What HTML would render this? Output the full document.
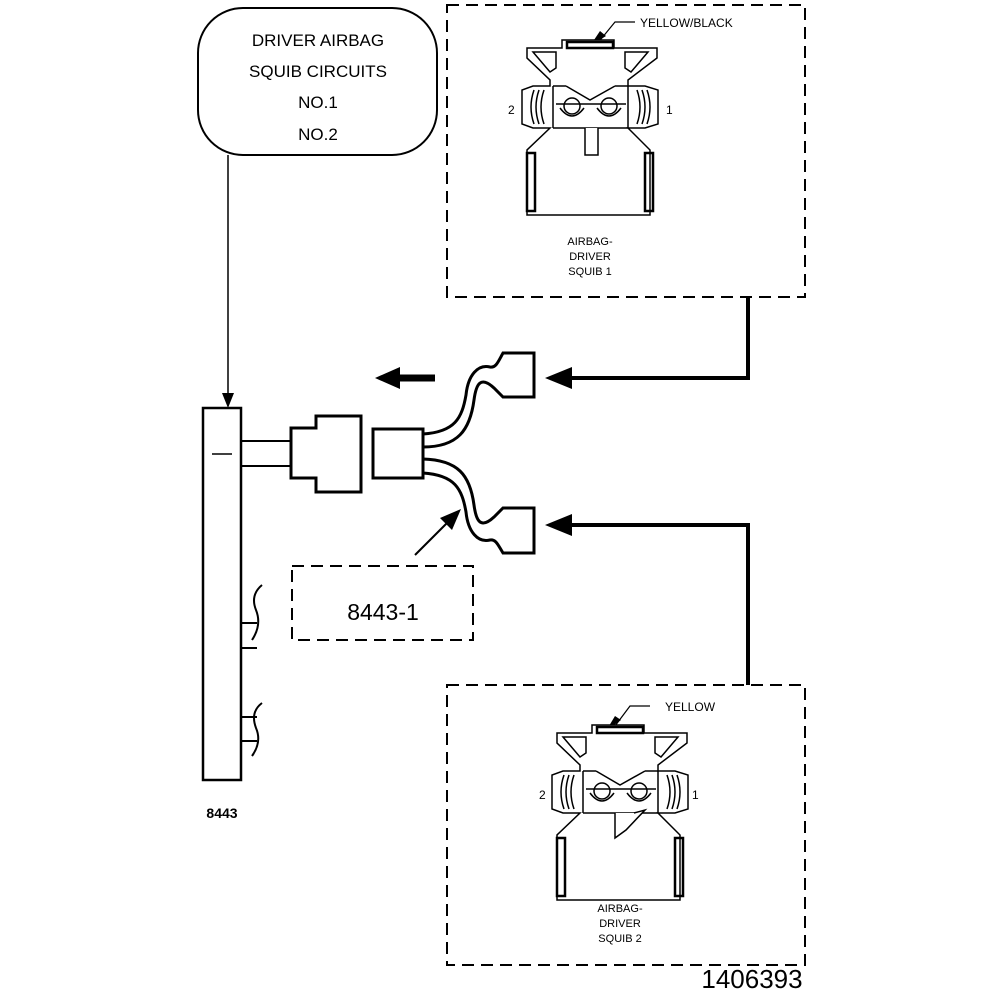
<!DOCTYPE html>
<html><head><meta charset="utf-8"><style>body{margin:0;background:#fff}svg{display:block}</style></head><body>
<svg width="1008" height="1000" viewBox="0 0 1008 1000" xmlns="http://www.w3.org/2000/svg" font-family="Liberation Sans, Arial, sans-serif">
<defs>
<g id="sq" fill="none" stroke="#000" stroke-width="1.5">
<path d="M527,48 H562 V40 H614 V48 H657 V58 L628,80 V86 H645 L658,90 V124 L645,128 H628 L650,150 V215 H527 V150 L550,128 H533 L522,124 V90 L533,86 H550 V80 L527,58 Z" fill="#fff"/>
<rect x="567" y="42" width="46" height="6" stroke-width="2.5"/>
<path d="M533,52 H556 V68 L550,72 Z M648,52 H625 V68 L631,72 Z"/>
<path d="M553,86 V128 M628,86 V128 M553,86 H566 M615,86 H628 M566,86 L590,100 L615,86 M553,128 H628"/>
<path d="M534,90 Q528,107 534,124 M539,90 Q533,107 539,124 M544,90 Q538,107 544,124 M647,90 Q653,107 647,124 M642,90 Q648,107 642,124 M637,90 Q643,107 637,124"/>
<circle cx="572" cy="106" r="8"/><circle cx="609" cy="106" r="8"/>
<path d="M556,104 H626 M560,108 Q572,124 584,108 M597,108 Q609,124 621,108"/>
<rect x="527" y="153" width="8" height="58" stroke-width="2.5"/><rect x="645" y="153" width="8" height="58" stroke-width="2.5"/>
</g>
</defs>
<g fill="none" stroke="#000">
<rect x="198" y="8" width="239" height="147" rx="45" stroke-width="2"/>
<path d="M228,155 V395" stroke-width="1.5"/>
<path d="M222,393 L228,408 L234,393 Z" fill="#000" stroke="none"/>
<rect x="203" y="408" width="38" height="372" stroke-width="2.5"/>
<path d="M212,454 H232" stroke-width="1.5"/>
<path d="M241,441 H291 M241,466 H291 M241,623 H257 M241,648 H257 M241,717 H257 M241,741 H257" stroke-width="2"/>
<path d="M262,585 Q250,595 256,610 Q262,625 252,640 M262,703 Q250,712 256,728 Q262,742 252,756" stroke-width="2"/>
<path d="M291,428 H316 V416 H361 V492 H316 V478 H291 Z" stroke-width="3"/>
<rect x="373" y="429" width="50" height="49" stroke-width="3"/>
<path d="M423,434 C455,432 462,418 466,395 C468,375 478,364 490,367 C496,368 498,362 503,353 H534 V397 H503 L494,388 C480,375 476,385 474,400 C470,430 458,447 423,447" stroke-width="3"/>
<path d="M423,473 C455,475 462,489 466,512 C468,532 478,543 490,540 C496,539 498,545 503,553 H534 V508 H503 L494,517 C480,530 476,520 474,505 C470,475 458,460 423,459" stroke-width="3"/>
<path d="M375,378 L400,367 V389 Z" fill="#000" stroke="none"/>
<path d="M398,378 H435" stroke-width="7"/>
<path d="M748,297 V378 H568 M748,685 V525 H568" stroke-width="4"/>
<path d="M545,378 L572,367 V389 Z M545,525 L572,514 V536 Z" fill="#000" stroke="none"/>
<path d="M415,555 L450,520" stroke-width="2"/>
<path d="M461,509 L440,518 L452,530 Z" fill="#000" stroke="none"/>
<g stroke-width="2" stroke-dasharray="12,7">
<rect x="447" y="5" width="358" height="292"/>
<rect x="447" y="685" width="358" height="280"/>
<rect x="292" y="566" width="181" height="74"/>
</g>
<path d="M597,44 L615,22 H635" stroke-width="1.2"/>
<path d="M612,730 L630,706 H650" stroke-width="1.2"/>
</g>
<path d="M590,46 L606,36 L600,31 Z" fill="#000"/>
<path d="M619,731 L634,720 L628,716 Z" fill="#000" transform="translate(-13,0)"/>
<use href="#sq"/>
<use href="#sq" transform="translate(30,685)"/>
<path d="M585,128 V155 H598 V128" fill="#fff" stroke="#000" stroke-width="1.5"/>
<path d="M615,813 V838 L626,830 L645,810 L634,813" fill="#fff" stroke="#000" stroke-width="1.5"/>
<g font-size="17" text-anchor="middle">
<text x="318" y="46">DRIVER AIRBAG</text>
<text x="318" y="77">SQUIB CIRCUITS</text>
<text x="318" y="108">NO.1</text>
<text x="318" y="140">NO.2</text>
</g>
<text x="383" y="620" font-size="23" text-anchor="middle">8443-1</text>
<text x="222" y="818" font-size="14" font-weight="bold" text-anchor="middle">8443</text>
<text x="752" y="988" font-size="26" text-anchor="middle">1406393</text>
<g font-size="12">
<text x="640" y="27">YELLOW/BLACK</text>
<text x="665" y="711">YELLOW</text>
<text x="508" y="114">2</text><text x="666" y="114">1</text>
<text x="539" y="799">2</text><text x="692" y="799">1</text>
</g>
<g font-size="11" text-anchor="middle">
<text x="590" y="245">AIRBAG-</text><text x="590" y="260">DRIVER</text><text x="590" y="275">SQUIB 1</text>
<text x="620" y="912">AIRBAG-</text><text x="620" y="927">DRIVER</text><text x="620" y="942">SQUIB 2</text>
</g>
</svg>
</body></html>
